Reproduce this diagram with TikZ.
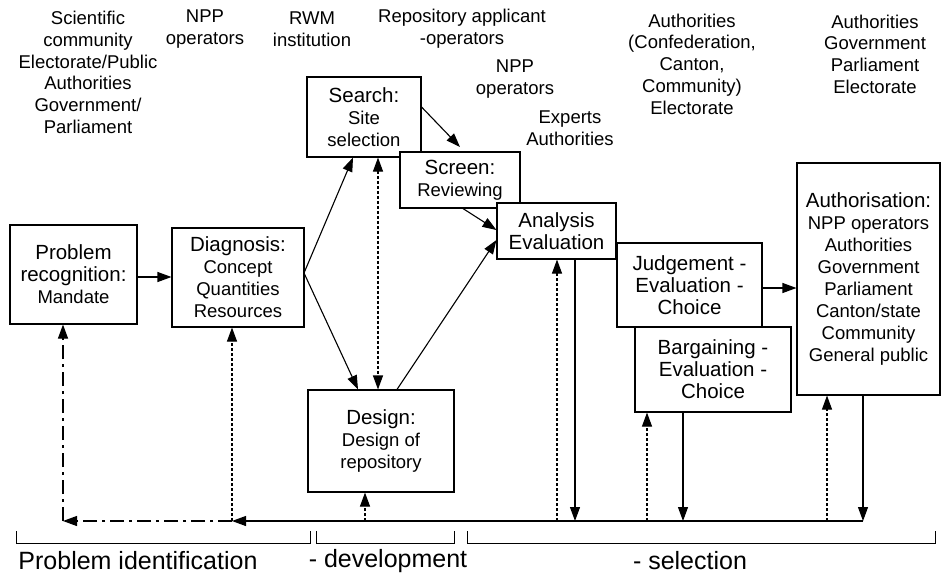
\documentclass[tikz,border=0pt]{standalone}
\usepackage{fontspec}
\setmainfont{Liberation Sans}
\usetikzlibrary{arrows.meta}
\newcommand{\titf}{\fontsize{20.5}{22}\selectfont}
\newcommand{\subf}{\fontsize{18.5}{21.5}\selectfont}
\newcommand{\topf}{\fontsize{18.5}{21.7}\selectfont}
\newcommand{\botf}{\fontsize{25}{28}\selectfont}
\begin{document}
\begin{tikzpicture}[x=1pt,y=-1pt,
  line width=1.1pt,
  box/.style={draw, fill=white, rectangle, inner sep=0pt, align=center, font=\titf},
  lbl/.style={inner sep=0pt, align=center, font=\topf},
  arr/.style={-{Triangle[length=14pt,width=10pt]}},
  darr/.style={{Triangle[length=14pt,width=10pt]}-{Triangle[length=14pt,width=10pt]}},
  dotl/.style={dash pattern=on 3pt off 2pt},
  dashdotl/.style={dash pattern=on 14pt off 5pt on 3pt off 5pt},
  brk/.style={line width=1pt}]
\useasboundingbox (0,0) rectangle (944,576);
\fill[white] (0,0) rectangle (944,576);

% top labels
\node[lbl] (t1) at (88,72.5) {Scientific\\community\\Electorate/Public\\Authorities\\Government/\\Parliament};
\node[lbl] (t2) at (205,29) {NPP\\operators};
\node[lbl] (t3) at (312,29) {RWM\\institution};
\node[lbl] (t4) at (462,29) {Repository applicant\\-operators};
\node[lbl] (t5) at (515,79) {NPP\\operators};
\node[lbl] (t6) at (570,128) {Experts\\Authorities};
\node[lbl] (t7) at (692,64) {Authorities\\(Confederation,\\Canton,\\Community)\\Electorate};
\node[lbl] (t8) at (875,54) {Authorities\\Government\\Parliament\\Electorate};

% boxes
\node[box, minimum width=127pt, minimum height=99pt] (prob) at (73.5,274.5)
  {Problem\\recognition:\\\subf Mandate};
\node[box, minimum width=132pt, minimum height=99pt] (diag) at (238,277.5)
  {Diagnosis:\\\subf Concept\\\subf Quantities\\\subf Resources};
\node[box, minimum width=114pt, minimum height=80pt] (search) at (364,117)
  {Search:\\\subf Site\\\subf selection};
\node[box, minimum width=120pt, minimum height=56pt] (screen) at (460,180)
  {Screen:\\\subf Reviewing};
\node[box, minimum width=119pt, minimum height=56pt] (anal) at (556.5,231)
  {Analysis\\Evaluation};
\node[box, minimum width=145pt, minimum height=84pt] (judge) at (689.5,285)
  {Judgement -\\Evaluation -\\Choice};
\node[box, minimum width=156pt, minimum height=85pt] (barg) at (713,369.5)
  {Bargaining -\\Evaluation -\\Choice};
\node[box, minimum width=143pt, minimum height=232pt] (auth) at (868.5,279)
  {Authorisation:\\\subf NPP operators\\\subf Authorities\\\subf Government\\\subf Parliament\\\subf Canton/state\\\subf Community\\\subf General public};
\node[box, minimum width=146pt, minimum height=102pt] (design) at (381,441)
  {Design:\\\subf Design of\\\subf repository};

% main connectors
\draw[arr] (prob.east |- 0,277) -- (diag.west |- 0,277);
\coordinate (dout) at (304,273);
\draw[arr] (dout) -- (search.south -| 353,0);
\draw[arr] (dout) -- (design.north -| 358,0);
\draw[darr, dotl] (search.south -| 378,0) -- (design.north -| 378,0);
\draw[arr] (design.north -| 397,0) -- (anal.west |- 0,240);
\draw[arr] (search.east |- 0,107) -- (460,147);
\draw[arr] (screen.south -| 463,0) -- (anal.west |- 0,230);
\draw[arr] (judge.east |- 0,288) -- (auth.west |- 0,288);

% bottom feedback line
\coordinate (bR) at (863,521);
\coordinate (bD) at (232,521);
\coordinate (bP) at (63,521);
\draw[arr] (bR) -- (bD);
\draw[arr, dashdotl] (bD) -- (bP);
\draw[arr, dashdotl] (bP) -- (prob.south -| bP);
\draw[arr, dotl] (bD) -- (diag.south -| bD);
\coordinate (bG) at (365,521);
\draw[arr, dotl] (bG) -- (design.south -| bG);
\coordinate (bA1) at (557,521);
\coordinate (bA2) at (575,521);
\draw[arr, dotl] (bA1) -- (anal.south -| bA1);
\draw[arr] (anal.south -| bA2) -- (bA2);
\coordinate (bB1) at (647,521);
\coordinate (bB2) at (683,521);
\draw[arr, dotl] (bB1) -- (barg.south -| bB1);
\draw[arr] (barg.south -| bB2) -- (bB2);
\coordinate (bC1) at (827,521);
\draw[arr, dotl] (bC1) -- (auth.south -| bC1);
\draw[arr] (auth.south -| bR) -- (bR);

% brackets
\draw[brk] (16,531) -- (16,543) -- (310,543) -- (310,531);
\draw[brk] (316,531) -- (316,543) -- (454,543) -- (454,531);
\draw[brk] (467,531) -- (467,543) -- (935,543) -- (935,531);
\node[inner sep=0pt, font=\botf] (p1) at (138,561) {Problem identification};
\node[inner sep=0pt, font=\botf] (p2) at (388,561) {- development};
\node[inner sep=0pt, font=\botf] (p3) at (690,561) {- selection};
\end{tikzpicture}
\end{document}
